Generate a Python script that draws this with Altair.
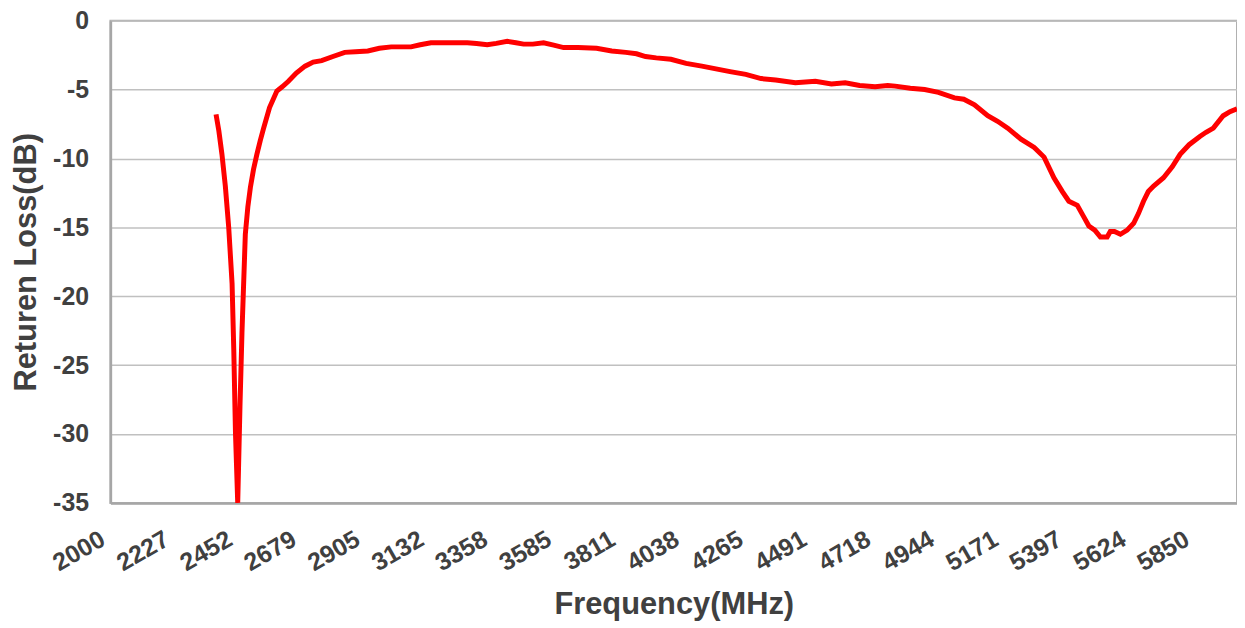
import altair as alt
import pandas as pd

freq = [2375, 2385, 2396, 2408, 2420, 2432, 2438, 2444, 2452, 2460, 2467, 2479, 2488,
        2497, 2508, 2520, 2532, 2544, 2565, 2591, 2610, 2632, 2660, 2691, 2720, 2750,
        2790, 2832, 2870, 2914, 2955, 2997, 3030, 3067, 3100, 3138, 3200, 3267, 3300,
        3338, 3370, 3409, 3440, 3467, 3500, 3538, 3570, 3609, 3660, 3726, 3780, 3830,
        3868, 3900, 3938, 3990, 4044, 4100, 4150, 4200, 4256, 4310, 4362, 4432, 4503,
        4560, 4609, 4660, 4715, 4760, 4786, 4840, 4891, 4940, 4997, 5030, 5068, 5115,
        5150, 5186, 5233, 5280, 5315, 5350, 5380, 5403, 5433, 5455, 5474, 5495, 5515,
        5539, 5550, 5565, 5586, 5610, 5633, 5650, 5668, 5685, 5704, 5739, 5770, 5798,
        5830, 5868, 5890, 5916, 5951, 5975, 6000]
loss = [-6.8, -8.0, -9.7, -12.0, -15.0, -19.1, -23.9, -29.9, -35.0, -28.0, -22.7, -15.5, -13.5,
        -12.1, -10.8, -9.7, -8.7, -7.8, -6.3, -5.1, -4.8, -4.4, -3.8, -3.3, -3.0, -2.9,
        -2.6, -2.3, -2.25, -2.2, -2.0, -1.9, -1.9, -1.9, -1.75, -1.6, -1.6, -1.6, -1.65,
        -1.75, -1.65, -1.5, -1.6, -1.7, -1.7, -1.6, -1.75, -1.95, -1.95, -2.0, -2.2, -2.3,
        -2.4, -2.6, -2.7, -2.8, -3.1, -3.3, -3.5, -3.7, -3.9, -4.2, -4.3, -4.5, -4.4,
        -4.6, -4.5, -4.7, -4.8, -4.7, -4.75, -4.9, -5.0, -5.2, -5.6, -5.7, -6.1, -6.9,
        -7.3, -7.8, -8.6, -9.2, -9.9, -11.4, -12.4, -13.1, -13.4, -14.2, -14.9, -15.2, -15.7,
        -15.7, -15.3, -15.3, -15.5, -15.2, -14.7, -14.0, -13.1, -12.4, -12.0, -11.4, -10.6, -9.7,
        -9.0, -8.4, -8.1, -7.8, -6.9, -6.6, -6.4]

x_ticks = [2000, 2227, 2452, 2679, 2905, 3132, 3358, 3585, 3811, 4038, 4265, 4491,
           4718, 4944, 5171, 5397, 5624, 5850]
y_ticks = [0, -5, -10, -15, -20, -25, -30, -35]

df = pd.DataFrame({"freq": freq, "loss": loss})

FONT = "Liberation Sans"
TXT = "#404040"

chart = alt.Chart(df).mark_line(color="#ff0000", strokeWidth=5, clip=True).encode(
    x=alt.X("freq:Q",
            scale=alt.Scale(domain=[2000, 6000], nice=False, zero=False),
            axis=alt.Axis(values=x_ticks, title="Frequency(MHz)", grid=False,
                          ticks=False, tickSize=0, labelAngle=-30, labelAlign="right",
                          labelBaseline="middle", labelPadding=34, labelOffset=-8,
                          labelFont=FONT,
                          labelFontSize=25, labelFontWeight="bold", labelColor=TXT,
                          labelOverlap=False, labelFlush=False,
                          labelExpr="'' + datum.value",
                          titleFont=FONT, titleFontSize=31, titleFontWeight="bold",
                          titleColor=TXT, titleBaseline="alphabetic",
                          titleX=566.5, titleY=111,
                          domainColor="#a6a6a6", domainWidth=2.5)),
    y=alt.Y("loss:Q",
            scale=alt.Scale(domain=[-35, 0], nice=False, zero=False),
            axis=alt.Axis(values=y_ticks, title="Returen Loss(dB)", grid=True,
                          gridColor="#c0c0c0", gridWidth=1.5,
                          ticks=False, tickSize=0, labelPadding=22, labelFont=FONT,
                          labelFontSize=25, labelFontWeight="bold", labelColor=TXT,
                          labelOverlap=False, labelFlush=False,
                          labelExpr="datum.value < 0 ? '-' + abs(datum.value) : '' + datum.value",
                          titleFont=FONT, titleFontSize=31, titleFontWeight="bold",
                          titleColor=TXT, titleBaseline="alphabetic",
                          titleX=-75, titleY=242.5, titleAngle=-90,
                          domainColor="#a6a6a6", domainWidth=2.5)),
).properties(
    width=1133, height=485,
    autosize=alt.AutoSizeParams(type="none"),
    padding={"left": 103, "top": 11, "right": 0, "bottom": 122},
).configure_view(stroke="#b0b0b0", strokeWidth=2)

chart.save("out.html", embed_options={"renderer": "svg", "actions": False})
